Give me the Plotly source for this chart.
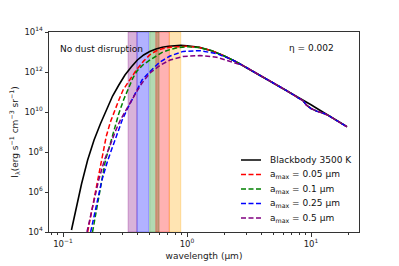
import plotly.graph_objects as go

# ---------------- data ----------------
# wavelength in micron, specific intensity in erg s^-1 cm^-3 sr^-1
wl_bb = [0.117, 0.129, 0.141, 0.158, 0.178, 0.200, 0.224, 0.251, 0.282, 0.316,
         0.355, 0.398, 0.447, 0.50, 0.562, 0.631, 0.708, 0.794, 0.891, 1.0,
         1.26, 1.58, 2.0, 2.51, 3.16, 3.98, 5.01, 6.31, 7.94, 8.6, 9.2, 10.0,
         11.1, 12.6, 14.0, 15.8, 19.5]
I_bb = [1.26e4, 2.0e5, 2.5e6, 4.0e7, 4.0e8, 2.5e9, 1.26e10, 6.3e10, 2.24e11, 7.1e11,
        1.78e12, 3.98e12, 7.1e12, 1.05e13, 1.41e13, 1.74e13, 1.95e13, 2.09e13, 2.14e13, 2.04e13,
        1.70e13, 1.17e13, 6.3e12, 3.16e12, 1.41e12, 6.3e11, 2.82e11, 1.20e11, 5.25e10, 3.98e10, 3.09e10, 2.29e10,
        1.55e10, 9.8e9, 6.8e9, 4.17e9, 1.86e9]

# common long-wavelength part of the dusty curves (silicate dip near 10 micron)
wl_tail = [3.16, 3.98, 5.01, 6.31, 7.94, 8.6, 9.2, 10.0, 11.1, 12.6, 14.0, 15.8, 19.5]
I_tail = [1.41e12, 6.3e11, 2.82e11, 1.20e11, 5.0e10, 3.7e10, 2.2e10, 1.5e10, 1.1e10, 8.7e9, 6.4e9, 4.0e9, 1.82e9]

wl_a005 = [0.158, 0.174, 0.191, 0.206, 0.223, 0.241, 0.261, 0.282, 0.305, 0.347, 0.39, 0.447,
           0.503, 0.562, 0.631, 0.73, 0.85, 1.0, 1.26, 1.58, 2.0, 2.51]
I_a005 = [1.0e4, 2.0e5, 3.98e6, 5.0e7, 5.89e8, 3.16e9, 1.26e10, 3.98e10, 1.26e11, 4.47e11, 1.26e12, 3.55e12,
          7.41e12, 1.12e13, 1.45e13, 1.74e13, 1.91e13, 1.95e13, 1.66e13, 1.17e13, 6.31e12, 3.16e12]

wl_a01 = [0.173, 0.188, 0.204, 0.22, 0.241, 0.26, 0.282, 0.31, 0.339, 0.366, 0.395, 0.44,
          0.503, 0.56, 0.63, 0.73, 0.85, 1.0, 1.26, 1.58, 2.0, 2.51]
I_a01 = [1.0e4, 2.0e5, 3.98e6, 3.98e7, 2.69e8, 1.58e9, 8.51e9, 4.47e10, 1.86e11, 5.01e11, 1.12e12, 2.24e12,
         3.98e12, 6.31e12, 9.55e12, 1.32e13, 1.66e13, 1.82e13, 1.66e13, 1.17e13, 6.31e12, 3.16e12]

wl_a025 = [0.167, 0.186, 0.206, 0.23, 0.256, 0.278, 0.3, 0.33, 0.36, 0.395, 0.434, 0.503,
           0.605, 0.73, 0.93, 1.27, 1.73, 2.2, 2.51]
I_a025 = [1.0e4, 2.0e5, 3.98e6, 3.98e7, 2.69e8, 1.12e9, 3.98e9, 1.41e10, 3.98e10, 1.26e11, 3.98e11, 1.07e12,
          3.16e12, 6.31e12, 1.07e13, 1.17e13, 8.32e12, 4.68e12, 3.16e12]

wl_a05 = [0.156, 0.174, 0.194, 0.216, 0.241, 0.265, 0.29, 0.325, 0.36, 0.395, 0.434, 0.503,
          0.605, 0.73, 0.93, 1.27, 1.73, 2.3, 2.8]
I_a05 = [1.0e4, 2.0e5, 3.98e6, 3.98e7, 2.69e8, 1.12e9, 3.98e9, 1.41e10, 3.98e10, 1.12e11, 2.82e11, 8.91e11,
         2.14e12, 3.98e12, 6.03e12, 6.61e12, 5.5e12, 3.31e12, 2.14e12]

# photometric bands (micron)
band_lo = [0.335, 0.395, 0.50, 0.56, 0.72]
band_hi = [0.395, 0.49, 0.595, 0.72, 0.89]

series_names = ["Blackbody 3500 K",
                "a<sub>max</sub> = 0.05 µm",
                "a<sub>max</sub> = 0.1 µm",
                "a<sub>max</sub> = 0.25 µm",
                "a<sub>max</sub> = 0.5 µm"]

x_tickvals = [0.1, 1, 10]
x_ticktext = ["10<sup>−1</sup>", "10<sup>0</sup>", "10<sup>1</sup>"]
y_tickvals = [1e4, 1e6, 1e8, 1e10, 1e12, 1e14]
y_ticktext = ["10<sup>4</sup>", "10<sup>6</sup>", "10<sup>8</sup>",
              "10<sup>10</sup>", "10<sup>12</sup>", "10<sup>14</sup>"]
x_minor = [0.08, 0.09, 0.2, 0.3, 0.4, 0.5, 0.6, 0.7, 0.8, 0.9,
           2, 3, 4, 5, 6, 7, 8, 9, 20]

# ---------------- styles ----------------
FONT = "DejaVu Sans"
band_fill = ["rgba(128,0,128,0.3)", "rgba(0,0,255,0.3)", "rgba(0,128,0,0.3)",
             "rgba(255,0,0,0.3)", "rgba(255,165,0,0.3)"]
line_colors = ["#000000", "#ff0000", "#008000", "#0000ff", "#800080"]
DASH = "5px,2.5px"

fig = go.Figure()

# bands
for lo, hi, col in zip(band_lo, band_hi, band_fill):
    fig.add_trace(go.Scatter(
        x=[lo, lo, hi, hi, lo], y=[1e4, 1e14, 1e14, 1e4, 1e4],
        mode="lines", fill="toself", fillcolor=col,
        line=dict(color=col, width=1), showlegend=False, hoverinfo="skip"))

# curves
fig.add_trace(go.Scatter(x=wl_bb, y=I_bb, mode="lines",
                         line=dict(color=line_colors[0], width=1.6),
                         showlegend=False))
dusty = [(wl_a005, I_a005), (wl_a01, I_a01), (wl_a025, I_a025), (wl_a05, I_a05)]
for (wl, I), col in zip(dusty, line_colors[1:]):
    fig.add_trace(go.Scatter(x=wl + wl_tail, y=I + I_tail, mode="lines",
                             line=dict(color=col, width=1.5, dash=DASH),
                             showlegend=False))

# ---------------- layout ----------------
L, R, T, B = 49, 40, 32, 34
W, H = 399, 266
pw, ph = W - L - R, H - T - B


def px_x(px):
    return (px - L) / pw


def px_y(py):
    return (H - B - py) / ph


axis_common = dict(
    type="log", showgrid=False, zeroline=False, automargin=False,
    showline=True, mirror=True, linecolor="#333333", linewidth=1,
    ticks="outside", ticklen=3.5, tickwidth=1, tickcolor="#333333",
    tickfont=dict(family=FONT, size=8.5, color="#222222"),
)

fig.update_layout(
    width=W, height=H,
    margin=dict(l=L, r=R, t=T, b=B),
    paper_bgcolor="white", plot_bgcolor="white",
    font=dict(family=FONT, size=9, color="#222222"),
    xaxis=dict(axis_common, range=[-1.113, 1.387],
               tickvals=x_tickvals, ticktext=x_ticktext,
               minor=dict(ticks="outside", ticklen=2, tickcolor="#333333",
                          tickvals=x_minor),
               title=dict(text="wavelength (µm)", font=dict(family=FONT, size=9),
                          standoff=4)),
    yaxis=dict(axis_common, range=[4, 14],
               tickvals=y_tickvals, ticktext=y_ticktext,
               title=dict(text="I<sub>λ</sub>(erg s<sup>−1</sup> cm<sup>−3</sup> sr<sup>−1</sup>)",
                          font=dict(family=FONT, size=9), standoff=4)),
    showlegend=False,
)

# text labels
fig.add_annotation(x=px_x(58), y=px_y(49), xref="paper", yref="paper",
                   text="No dust disruption", showarrow=False,
                   xanchor="left", yanchor="middle",
                   font=dict(family=FONT, size=9, color="#111111"))
fig.add_annotation(x=px_x(336), y=px_y(48), xref="paper", yref="paper",
                   text="η = 0.002", showarrow=False,
                   xanchor="right", yanchor="middle",
                   font=dict(family=FONT, size=9, color="#111111"))

# legend (drawn manually to match the compact matplotlib legend)
rows = [160, 174.5, 189, 203.5, 218]
for i, (name, col) in enumerate(zip(series_names, line_colors)):
    yy = px_y(rows[i])
    fig.add_shape(type="line", xref="paper", yref="paper",
                  x0=px_x(241), x1=px_x(261), y0=yy, y1=yy,
                  line=dict(color=col, width=1.5,
                            dash="solid" if i == 0 else DASH))
    fig.add_annotation(x=px_x(268), y=yy, xref="paper", yref="paper",
                       text=name, showarrow=False,
                       xanchor="left", yanchor="middle",
                       font=dict(family=FONT, size=9, color="#111111"))

fig.write_html("out.html",
               config={"displayModeBar": False, "staticPlot": True},
               post_script="document.body.style.margin='0';document.body.style.overflow='hidden';")
